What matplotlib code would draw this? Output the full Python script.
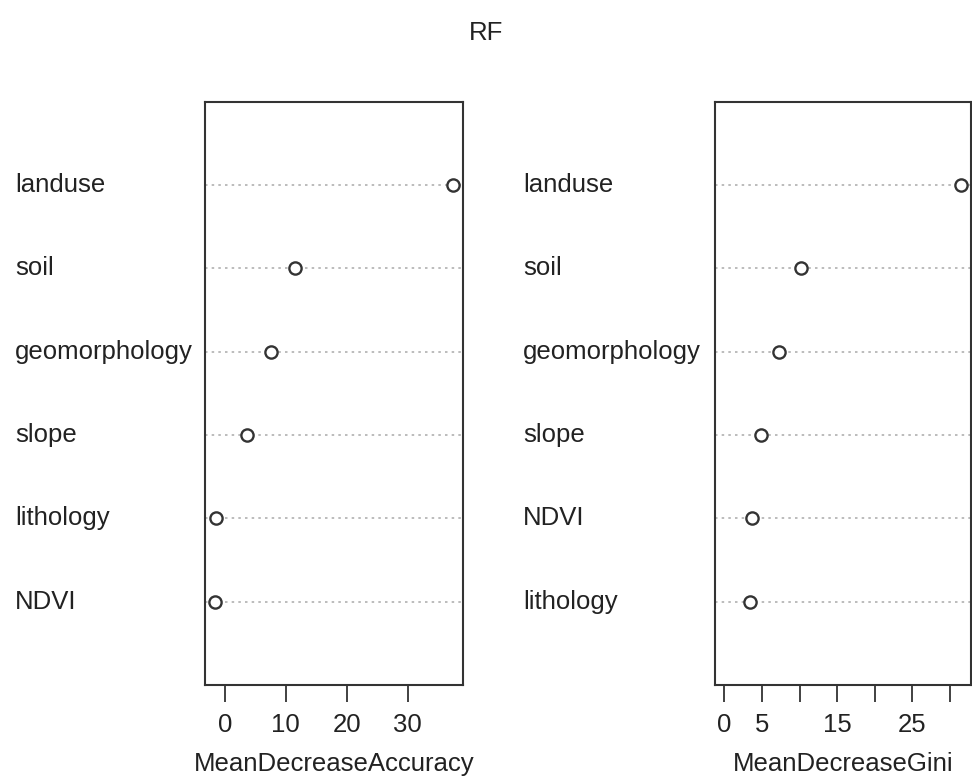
import numpy as np
import matplotlib
matplotlib.use('Agg')
import matplotlib.pyplot as plt
import matplotlib.transforms as mtrans

plt.rcParams['font.family'] = ['Liberation Sans', 'DejaVu Sans']

# variable importance, listed bottom -> top (as dotchart draws them)
acc_vars = ['NDVI', 'lithology', 'slope', 'geomorphology', 'soil', 'landuse']
acc_vals = [-1.7, -1.4, 3.6, 7.6, 11.5, 37.5]

gini_vars = ['lithology', 'NDVI', 'slope', 'geomorphology', 'soil', 'landuse']
gini_vals = [3.4, 3.6, 4.9, 7.25, 10.2, 31.5]

acc_ticks = [0, 10, 20, 30]
acc_ticklabels = ['0', '10', '20', '30']
gini_ticks = [0, 5, 10, 15, 20, 25, 30]
gini_ticklabels = ['0', '5', '', '15', '', '25', '']

W, H = 972, 779
fig = plt.figure(figsize=(W / 100, H / 100), dpi=100)
fig.text(486 / W, 1 - 33 / H, 'RF', ha='center', va='center', fontsize=18.5, color='#222222')

txtc = '#222222'


def dotpanel(left_px, right_px, lab_px, names, vals, xmin, ticks, ticklabels, xlabel):
    ax = fig.add_axes([left_px / W, 1 - 685 / H, (right_px - left_px) / W, (685 - 101.7) / H])
    y = np.arange(1, len(vals) + 1)
    for yy in y:
        ax.axhline(yy, color='#b0b0b0', linestyle=(0, (1.5, 2.5)), linewidth=1.2, zorder=1)
    ax.plot(vals, y, 'o', markersize=8.8, markerfacecolor='white',
            markeredgecolor='#333333', markeredgewidth=1.7, zorder=3)
    lo, hi = xmin, max(vals)
    pad = (hi - lo) * 0.04
    ax.set_xlim(lo - pad, hi + pad)
    ax.set_ylim(0, len(vals) + 1)
    ax.set_yticks([])
    ax.set_xticks(ticks)
    ax.set_xticklabels(ticklabels, fontsize=18.5, color=txtc)
    ax.tick_params(axis='x', length=12, width=1.3, color='#333333', pad=8)
    ax.set_xlabel(xlabel, fontsize=18.5, color=txtc, labelpad=11)
    for sp in ax.spines.values():
        sp.set_color('#333333')
        sp.set_linewidth(1.5)
    tr = mtrans.blended_transform_factory(fig.transFigure, ax.transData)
    for name, yy in zip(names, y):
        ax.text(lab_px / W, yy, name, transform=tr, ha='left', va='center',
                fontsize=18.5, color=txtc)
    return ax


dotpanel(205, 463, 15, acc_vars, acc_vals, min(acc_vals), acc_ticks, acc_ticklabels,
         'MeanDecreaseAccuracy')
dotpanel(715, 970.7, 523, gini_vars, gini_vals, 0, gini_ticks, gini_ticklabels,
         'MeanDecreaseGini')

fig.savefig('out.png', dpi=100)
